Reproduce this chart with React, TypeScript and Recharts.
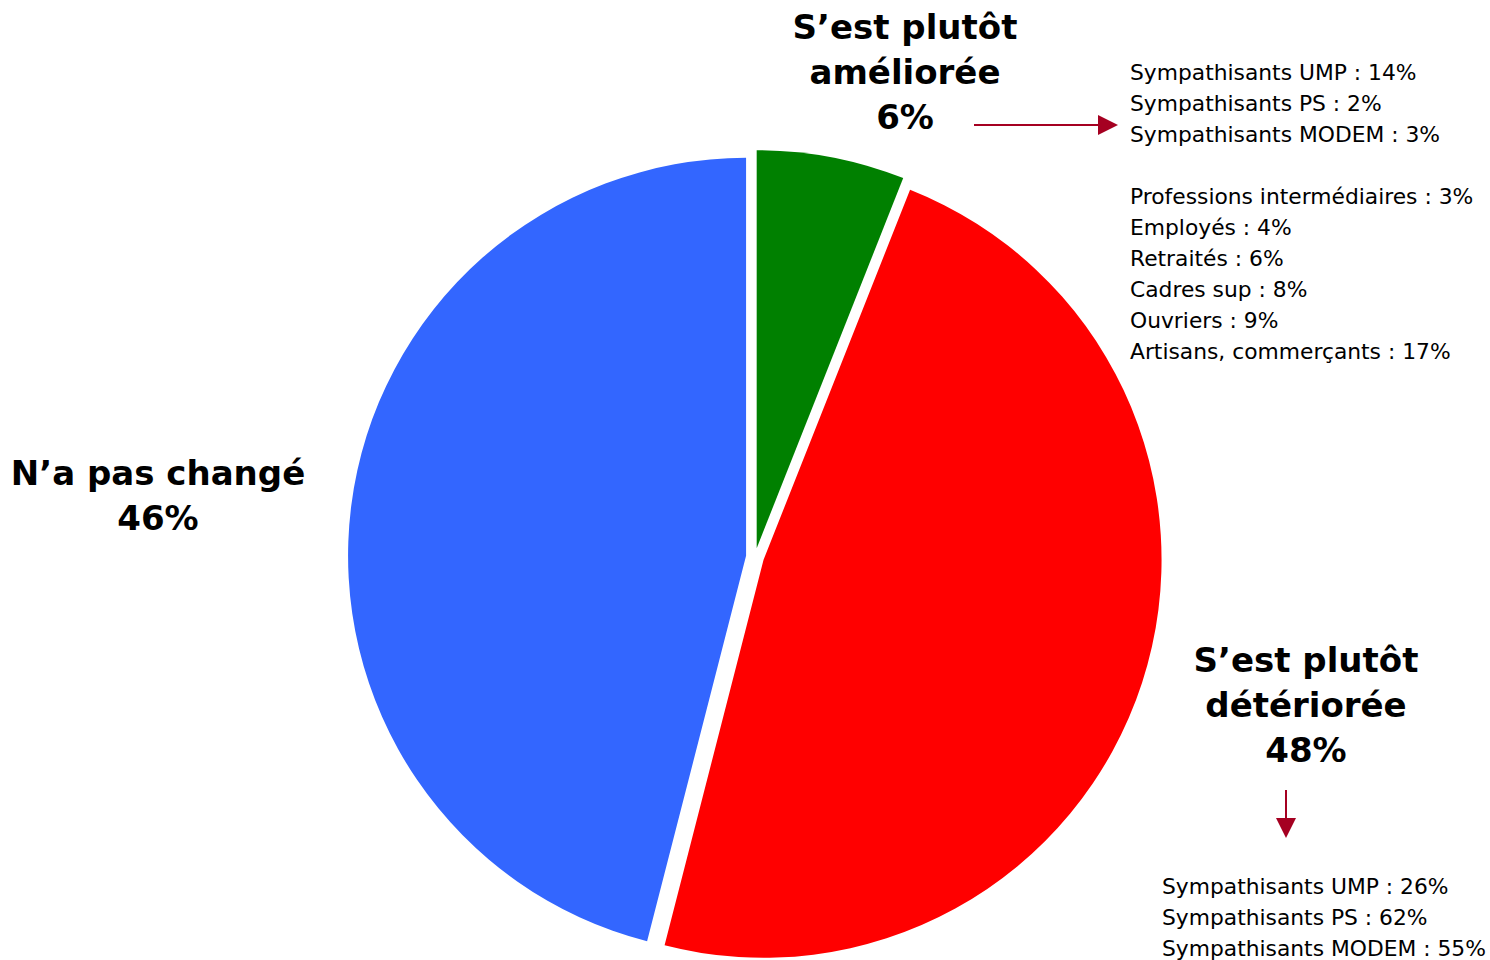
import { PieChart, Pie, Cell, Sector } from "recharts";

const categories = ["S’est plutôt améliorée", "S’est plutôt détériorée", "N’a pas changé"];
const shares = [6, 48, 46];
const colors = ["#008000", "#FF0000", "#3366FF"];

const ameliorationLines = ["S’est plutôt", "améliorée", "6%"];
const deteriorationLines = ["S’est plutôt", "détériorée", "48%"];
const inchangeLines = ["N’a pas changé", "46%"];

const ameliorationPartis = ["Sympathisants UMP : 14%", "Sympathisants PS : 2%", "Sympathisants MODEM : 3%"];
const ameliorationCsp = [
    "Professions intermédiaires : 3%",
    "Employés : 4%",
    "Retraités : 6%",
    "Cadres sup : 8%",
    "Ouvriers : 9%",
    "Artisans, commerçants : 17%",
];
const deteriorationPartis = ["Sympathisants UMP : 26%", "Sympathisants PS : 62%", "Sympathisants MODEM : 55%"];

const data = categories.map((name, i) => ({ name, value: shares[i] }));

const EXPLODE = 9;
const ARROW = "#A50021";
const FONT = "Verdana, 'DejaVu Sans', sans-serif";

// each slice pushed outward along its bisector
const ExplodedSector = (props: any) => {
    const { cx, cy, midAngle, innerRadius, outerRadius, startAngle, endAngle, fill } = props;
    const rad = (-midAngle * Math.PI) / 180;
    return (
        <Sector
            cx={cx + EXPLODE * Math.cos(rad)}
            cy={cy + EXPLODE * Math.sin(rad)}
            innerRadius={innerRadius}
            outerRadius={outerRadius}
            startAngle={startAngle}
            endAngle={endAngle}
            fill={fill}
            stroke="none"
        />
    );
};

const BigLabel = ({ lines, x, y }: { lines: string[]; x: number; y: number }) => (
    <div
        style={{
            position: "absolute",
            left: x - 200,
            top: y,
            width: 400,
            textAlign: "center",
            fontFamily: FONT,
            fontWeight: "bold",
            fontSize: 34,
            lineHeight: "45px",
            color: "#000",
        }}
    >
        {lines.map((l) => (
            <div key={l}>{l}</div>
        ))}
    </div>
);

const SmallBlock = ({ lines, x, y }: { lines: string[]; x: number; y: number }) => (
    <div
        style={{
            position: "absolute",
            left: x,
            top: y,
            fontFamily: FONT,
            fontSize: 21.8,
            lineHeight: "31px",
            color: "#000",
            whiteSpace: "nowrap",
        }}
    >
        {lines.map((l) => (
            <div key={l}>{l}</div>
        ))}
    </div>
);

const App = () => {
    return (
        <div style={{ position: "absolute", left: 0, top: 0, width: 1490, height: 960, background: "#fff", overflow: "hidden" }}>
            <PieChart width={1490} height={960} margin={{ top: 0, right: 0, bottom: 0, left: 0 }}>
                <Pie
                    data={data}
                    dataKey="value"
                    nameKey="name"
                    cx={755}
                    cy={557}
                    outerRadius={398}
                    startAngle={90}
                    endAngle={-270}
                    stroke="none"
                    shape={ExplodedSector}
                    isAnimationActive={false}
                >
                    {data.map((d, i) => (
                        <Cell key={d.name} fill={colors[i]} />
                    ))}
                </Pie>
            </PieChart>

            <BigLabel lines={ameliorationLines} x={905} y={5} />
            <BigLabel lines={inchangeLines} x={158} y={451} />
            <BigLabel lines={deteriorationLines} x={1306} y={638} />

            <SmallBlock lines={ameliorationPartis} x={1130} y={57} />
            <SmallBlock lines={ameliorationCsp} x={1130} y={181} />
            <SmallBlock lines={deteriorationPartis} x={1162} y={871} />

            <svg style={{ position: "absolute", left: 0, top: 0 }} width={1490} height={960}>
                <line x1={974} y1={125} x2={1100} y2={125} stroke={ARROW} strokeWidth={2} />
                <polygon points="1098,115 1118,125 1098,135" fill={ARROW} />
                <line x1={1286} y1={790} x2={1286} y2={820} stroke={ARROW} strokeWidth={2} />
                <polygon points="1276,818 1296,818 1286,838" fill={ARROW} />
            </svg>
        </div>
    );
};

export default App;
